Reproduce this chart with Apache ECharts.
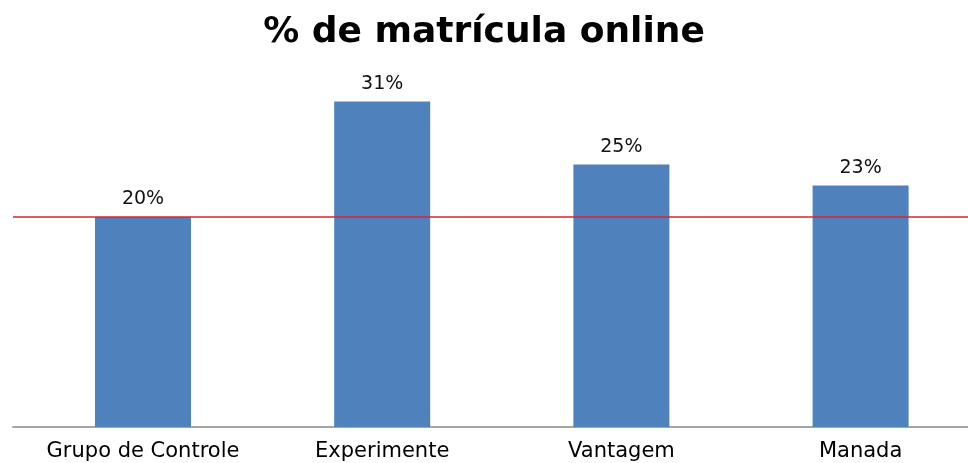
<!DOCTYPE html>
<html>
<head>
<meta charset="utf-8">
<script src="https://cdn.jsdelivr.net/npm/echarts@6/dist/echarts.min.js"></script>
<style>
  html, body { margin: 0; padding: 0; background: #fff; }
  #chart { width: 968px; height: 463px; }
</style>
</head>
<body>
<div id="chart"></div>
<script>
const categories = ['Grupo de Controle', 'Experimente', 'Vantagem', 'Manada']
const values = [20, 31, 25, 23]
const controlLevel = 20

// bars sit on a value x axis so the plot can run past the edges like the original crop
const barData = values.map((v, i) => [i, v])

const myChart = echarts.init(document.getElementById('chart'))
const options = {
  animation: false,
  title: {
    text: '% de matrícula online',
    left: 'center',
    top: 10,
    textStyle: {
      fontFamily: 'DejaVu Sans',
      fontWeight: 'bold',
      fontSize: 36,
      color: '#000'
    }
  },
  grid: {
    left: 13,
    right: 0,
    top: 59.5,
    bottom: 36
  },
  xAxis: {
    type: 'value',
    min: -0.5435,
    max: 3.449,
    splitLine: { show: false },
    axisTick: { show: false },
    axisLine: {
      onZero: false,
      lineStyle: { color: '#a6a6a6', width: 2 }
    },
    axisLabel: {
      customValues: [0, 1, 2, 3],
      margin: 14,
      fontFamily: 'DejaVu Sans',
      fontSize: 21,
      color: '#000',
      formatter: v => categories[v]
    }
  },
  yAxis: {
    type: 'value',
    min: 0,
    max: 35,
    show: false,
    splitLine: { show: false }
  },
  series: [
    {
      type: 'bar',
      data: barData,
      barWidth: 96,
      itemStyle: { color: '#4f81bd' },
      label: {
        show: true,
        position: 'top',
        distance: 8,
        formatter: p => p.value[1] + '%',
        fontFamily: 'DejaVu Sans',
        fontSize: 19,
        color: '#111'
      },
      markLine: {
        symbol: 'none',
        silent: true,
        label: { show: false },
        lineStyle: { color: '#d9232e', width: 1.5, type: 'solid' },
        data: [{ yAxis: controlLevel }]
      }
    }
  ]
}
myChart.setOption(options)
</script>
</body>
</html>
